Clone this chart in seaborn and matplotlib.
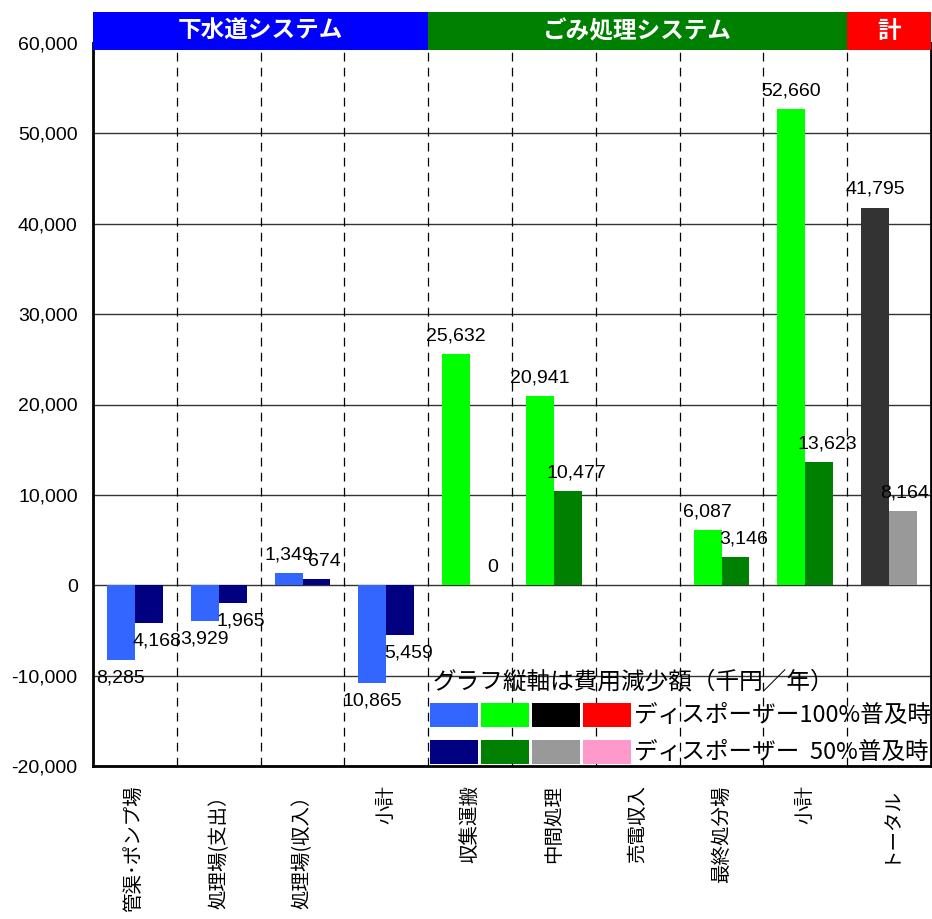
import numpy as np
import pandas as pd
import matplotlib
matplotlib.use("Agg")
import matplotlib.pyplot as plt
from matplotlib.patches import Rectangle
import seaborn as sns

# ---- data -------------------------------------------------------------
categories = ["管渠･ポンプ場", "処理場(支出）", "処理場(収入）", "小計",
              "収集運搬", "中間処理", "売電収入", "最終処分場", "小計", "トータル"]
groups = ["sewer"] * 4 + ["waste"] * 5 + ["total"]
values_100 = [-8285, -3929, 1349, -10865, 25632, 20941, np.nan, 6087, 52660, 41795]
values_50 = [-4168, -1965, 674, -5459, 0, 10477, np.nan, 3146, 13623, 8164]
levels = ["ディスポーザー100%普及時", "ディスポーザー  50%普及時"]
y_ticks = list(range(-20000, 60001, 10000))

header_titles = ["下水道システム", "ごみ処理システム", "計"]
header_spans = [(-0.5, 3.5), (3.5, 8.5), (8.5, 9.5)]
header_colors = ["#0000FF", "#008000", "#FF0000"]

bar_colors = {
    "sewer": ["#3366FF", "#000080"],
    "waste": ["#00FF00", "#008000"],
    "total": ["#333333", "#999999"],
}
legend_rows = [
    ["#3366FF", "#00FF00", "#000000", "#FF0000"],
    ["#000080", "#008000", "#999999", "#FF99CC"],
]
legend_title = "グラフ縦軸は費用減少額（千円／年）"

# ---- long-form table ---------------------------------------------------
rows = []
for i in range(len(categories)):
    for lvl, vals in zip(levels, [values_100, values_50]):
        if not np.isnan(vals[i]):
            rows.append({"pos": i, "level": lvl, "value": vals[i]})
df = pd.DataFrame(rows)

# ---- style -------------------------------------------------------------
sns.set_style("white")
plt.rcParams["font.family"] = ["Liberation Sans", "Noto Sans CJK JP"]
plt.rcParams["text.color"] = "black"
plt.rcParams["xtick.color"] = "black"
plt.rcParams["ytick.color"] = "black"
CJK = ["Noto Sans CJK JP", "Liberation Sans"]

W, H = 932, 919
fig = plt.figure(figsize=(W / 100, H / 100), dpi=100)


def fx(px):
    return px / W


def fy(py):
    return 1 - py / H


ax_left, ax_right, ax_top, ax_bottom = 93, 931, 43, 766
ax = fig.add_axes([fx(ax_left), fy(ax_bottom), fx(ax_right - ax_left),
                   (ax_bottom - ax_top) / H])

sns.barplot(data=df, x="pos", y="value", hue="level", hue_order=levels,
            order=list(range(len(categories))),
            palette=["#3366FF", "#000080"], width=2 / 3, dodge=True,
            errorbar=None, saturation=1, legend=False, ax=ax, zorder=3)

# recolour each bar by its group and annotate
last = len(categories) - 1
for p in ax.patches:
    cx = p.get_x() + p.get_width() / 2
    cat = int(round(cx))
    lvl = 0 if cx < cat else 1
    p.set_facecolor(bar_colors[groups[cat]][lvl])
    p.set_edgecolor("none")
    h = p.get_height()
    dx = 0 if lvl == 0 else 6
    if cat == last and lvl == 1:
        dx = 1  # keep the rightmost label inside the frame
    dy = 13 if h >= 0 else -13
    ax.annotate(f"{abs(h):,.0f}", (cx, h), xytext=(dx, dy),
                textcoords="offset points", ha="center", va="center",
                fontsize=14, color="black", zorder=5, annotation_clip=False)

ax.set_xlim(-0.5, 9.5)
ax.set_ylim(-20000, 60000)
ax.set_yticks(y_ticks)
ax.set_yticklabels([f"{v:,}" for v in y_ticks], fontsize=14)
ax.set_xticks(range(len(categories)))
ax.set_xticklabels(categories, rotation=90, fontsize=14, family=CJK,
                   va="top", ha="center")
ax.tick_params(axis="x", length=0, pad=14)
ax.tick_params(axis="y", length=0, pad=11)
ax.set_xlabel("")
ax.set_ylabel("")

for y in y_ticks[1:-1]:
    ax.axhline(y, color="#333333", lw=1.0, zorder=1)
for b in np.arange(0.5, 9.5, 1.0):
    ax.axvline(b, color="black", lw=0.9, ls=(0, (7, 5)), zorder=1)

for side in ["left", "bottom", "right"]:
    ax.spines[side].set_visible(True)
    ax.spines[side].set_color("black")
    ax.spines[side].set_linewidth(2)
ax.spines["top"].set_visible(False)

# ---- header band ---------------------------------------------------------
hax = fig.add_axes([fx(ax_left), fy(50), fx(ax_right - ax_left), 38 / H])
hax.set_xlim(-0.5, 9.5)
hax.set_ylim(0, 1)
for title, (a, b), c in zip(header_titles, header_spans, header_colors):
    hax.axvspan(a, b, color=c, lw=0)
    hax.text((a + b) / 2, 0.5, title, ha="center", va="center", color="white",
             fontsize=17, fontweight="bold", family=CJK)
hax.axis("off")

# ---- legend --------------------------------------------------------------
fig.text(fx(433), fy(682), legend_title, fontsize=17, family=CJK,
         ha="left", va="center")
box_x = [430, 481, 532, 583]
for row_i, (cols, ytop) in enumerate(zip(legend_rows, [703, 740])):
    for c, x0 in zip(cols, box_x):
        fig.patches.append(Rectangle((fx(x0), fy(ytop + 24)), fx(48), 24 / H,
                                     transform=fig.transFigure,
                                     facecolor=c, edgecolor="none", zorder=4))
    fig.text(fx(634), fy(ytop + 12), levels[row_i], fontsize=17, family=CJK,
             ha="left", va="center")

fig.savefig("out.png", dpi=100)
